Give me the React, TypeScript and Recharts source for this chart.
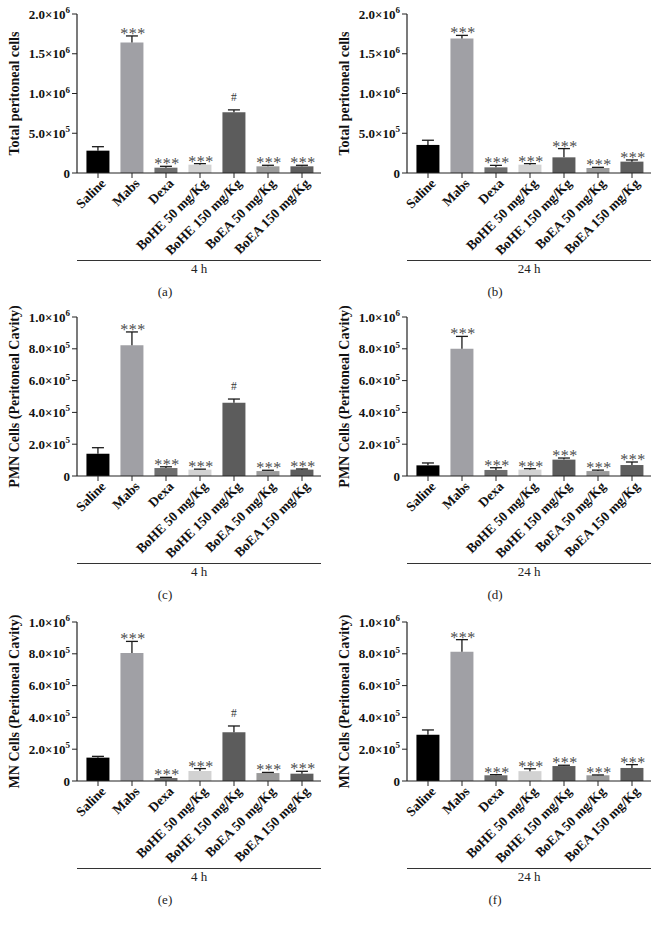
import React from 'react';
import { BarChart, Bar, XAxis, YAxis, Cell, LabelList } from 'recharts';

const groups = [
  'Saline',
  'Mabs',
  'Dexa',
  'BoHE 50 mg/Kg',
  'BoHE 150 mg/Kg',
  'BoEA 50 mg/Kg',
  'BoEA 150 mg/Kg',
];

const barColors = ['#000000', '#a0a0a5', '#6e6e6e', '#d2d2d2', '#5c5c5c', '#9a9a9a', '#5e5e5e'];

// (a) total cells, 4 h
const totalMean4h = [281000, 1640000, 67000, 105000, 765000, 84000, 84000];
const totalErr4h = [50000, 84000, 17000, 13000, 29000, 13000, 13000];
const sig4h = ['', '***', '***', '***', '#', '***', '***'];

// (b) total cells, 24 h
const totalMean24h = [353000, 1693000, 71000, 105000, 197000, 63000, 143000];
const totalErr24h = [59000, 38000, 25000, 13000, 110000, 8000, 21000];
const sig24h = ['', '***', '***', '***', '***', '***', '***'];

// (c) PMN, 4 h
const pmnMean4h = [140000, 822000, 50000, 40000, 461000, 31000, 40000];
const pmnErr4h = [38000, 84000, 8000, 3000, 23000, 5000, 4000];

// (d) PMN, 24 h
const pmnMean24h = [67000, 801000, 38000, 40000, 103000, 31000, 69000];
const pmnErr24h = [15000, 77000, 14000, 6000, 10000, 6000, 19000];

// (e) MN, 4 h
const mnMean4h = [147000, 805000, 19000, 63000, 306000, 50000, 46000];
const mnErr4h = [8000, 73000, 4000, 15000, 40000, 4000, 15000];

// (f) MN, 24 h
const mnMean24h = [291000, 813000, 36000, 62000, 94000, 36000, 82000];
const mnErr24h = [30000, 76000, 4000, 15000, 5000, 2000, 21000];

const totalTicks = [0, 500000, 1000000, 1500000, 2000000];
const cellTicks = [0, 200000, 400000, 600000, 800000, 1000000];

const FONT = "'Liberation Serif', 'Times New Roman', serif";

const YTick = (props: any) => {
  const { x, y, payload } = props;
  const v = payload.value as number;
  if (v === 0) {
    return (
      <text x={x} y={y} dy={4.5} textAnchor="end" fontFamily={FONT} fontWeight="bold" fontSize={13} fill="#111">
        0
      </text>
    );
  }
  const exp = Math.floor(Math.log10(v) + 1e-9);
  const mant = v / Math.pow(10, exp);
  return (
    <text x={x} y={y} dy={4.5} textAnchor="end" fontFamily={FONT} fontWeight="bold" fontSize={13} fill="#111">
      {mant.toFixed(1)}×10
      <tspan dy={-5.5} fontSize={9}>
        {exp}
      </tspan>
    </text>
  );
};

const XTick = (props: any) => {
  const { x, y, payload } = props;
  return (
    <g transform={`translate(${x},${y})`}>
      <text
        x={0}
        y={0}
        dx={3}
        dy={9}
        textAnchor="end"
        transform="rotate(-45)"
        fontFamily={FONT}
        fontWeight="bold"
        fontSize={13.5}
        fill="#111"
      >
        {payload.value}
      </text>
    </g>
  );
};

// error bar drawn on the stacked "err" segment
const ErrShape = (props: any) => {
  const { x, y, width, height } = props;
  const cx = x + width / 2;
  return (
    <g>
      <line x1={cx} x2={cx} y1={y} y2={y + height} stroke="#1a1a1a" strokeWidth={1.3} />
      <line x1={cx - 6} x2={cx + 6} y1={y} y2={y} stroke="#1a1a1a" strokeWidth={1.3} />
    </g>
  );
};

const SigLabel = (props: any) => {
  const { x, y, width, value } = props;
  if (!value) return null;
  const cx = x + width / 2;
  if (value === '#') {
    return (
      <text x={cx} y={y - 9} textAnchor="middle" fontFamily={FONT} fontSize={11.5} fill="#3a3a3a" stroke="none">
        #
      </text>
    );
  }
  return (
    <text
      x={cx + 1}
      y={y + 3}
      textAnchor="middle"
      fontFamily={FONT}
      fontSize={16}
      letterSpacing={0.5}
      fill="#4d4d4d"
      stroke="none"
    >
      {value}
    </text>
  );
};

interface IPanel {
  left: number;
  top: number;
  mean: number[];
  err: number[];
  sig: string[];
  yLabel: string;
  yMax: number;
  ticks: number[];
  time: string;
  letter: string;
}

const Panel = ({ left, top, mean, err, sig, yLabel, yMax, ticks, time, letter }: IPanel) => {
  const data = groups.map((name, i) => ({ name, mean: mean[i], err: err[i], sig: sig[i] }));
  return (
    <>
      <div style={{ position: 'absolute', left, top }}>
        <BarChart
          width={330}
          height={260}
          data={data}
          margin={{ top: 14, right: 9, left: 0, bottom: 0 }}
          barCategoryGap="16%"
        >
          <XAxis
            dataKey="name"
            interval={0}
            height={87}
            tick={<XTick />}
            tickSize={5}
            padding={{ left: 4, right: 2 }}
            axisLine={{ stroke: '#222', strokeWidth: 1.2 }}
            tickLine={{ stroke: '#222' }}
          />
          <YAxis
            width={77}
            domain={[0, yMax]}
            ticks={ticks}
            tick={<YTick />}
            tickSize={5}
            axisLine={{ stroke: '#222', strokeWidth: 1.2 }}
            tickLine={{ stroke: '#222' }}
            label={{
              content: (p: any) => {
                const vb = p.viewBox;
                const cy = vb.y + vb.height / 2;
                return (
                  <text
                    x={14}
                    y={cy}
                    transform={`rotate(-90, 14, ${cy})`}
                    textAnchor="middle"
                    dominantBaseline="central"
                    fontFamily={FONT}
                    fontWeight="bold"
                    fontSize={14}
                    fill="#111"
                  >
                    {yLabel}
                  </text>
                );
              },
            }}
          />
          <Bar dataKey="mean" stackId="s" isAnimationActive={false}>
            {data.map((_, i) => (
              <Cell key={`c-${i}`} fill={barColors[i]} />
            ))}
          </Bar>
          <Bar dataKey="err" stackId="s" isAnimationActive={false} shape={<ErrShape />}>
            <LabelList dataKey="sig" content={<SigLabel />} />
          </Bar>
        </BarChart>
      </div>
      <div
        style={{
          position: 'absolute',
          left: left + 77,
          top: top + 260,
          width: 244,
          borderTop: '1px solid #333',
        }}
      />
      <div
        style={{
          position: 'absolute',
          left: left + 77,
          top: top + 262,
          width: 244,
          textAlign: 'center',
          fontFamily: FONT,
          fontSize: 13,
          lineHeight: '14px',
          color: '#222',
        }}
      >
        {time}
      </div>
      <div
        style={{
          position: 'absolute',
          left,
          top: top + 285,
          width: 330,
          textAlign: 'center',
          fontFamily: FONT,
          fontSize: 13,
          lineHeight: '14px',
          color: '#222',
        }}
      >
        {letter}
      </div>
    </>
  );
};

const App = () => {
  return (
    <div style={{ position: 'absolute', left: 0, top: 0, width: 659, height: 925, background: '#fff' }}>
      <Panel left={0} top={0} mean={totalMean4h} err={totalErr4h} sig={sig4h} yLabel="Total peritoneal cells" yMax={2000000} ticks={totalTicks} time="4 h" letter="(a)" />
      <Panel left={330} top={0} mean={totalMean24h} err={totalErr24h} sig={sig24h} yLabel="Total peritoneal cells" yMax={2000000} ticks={totalTicks} time="24 h" letter="(b)" />
      <Panel left={0} top={303} mean={pmnMean4h} err={pmnErr4h} sig={sig4h} yLabel="PMN Cells (Peritoneal Cavity)" yMax={1000000} ticks={cellTicks} time="4 h" letter="(c)" />
      <Panel left={330} top={303} mean={pmnMean24h} err={pmnErr24h} sig={sig24h} yLabel="PMN Cells (Peritoneal Cavity)" yMax={1000000} ticks={cellTicks} time="24 h" letter="(d)" />
      <Panel left={0} top={608} mean={mnMean4h} err={mnErr4h} sig={sig4h} yLabel="MN Cells (Peritoneal Cavity)" yMax={1000000} ticks={cellTicks} time="4 h" letter="(e)" />
      <Panel left={330} top={608} mean={mnMean24h} err={mnErr24h} sig={sig24h} yLabel="MN Cells (Peritoneal Cavity)" yMax={1000000} ticks={cellTicks} time="24 h" letter="(f)" />
    </div>
  );
};

export default App;
